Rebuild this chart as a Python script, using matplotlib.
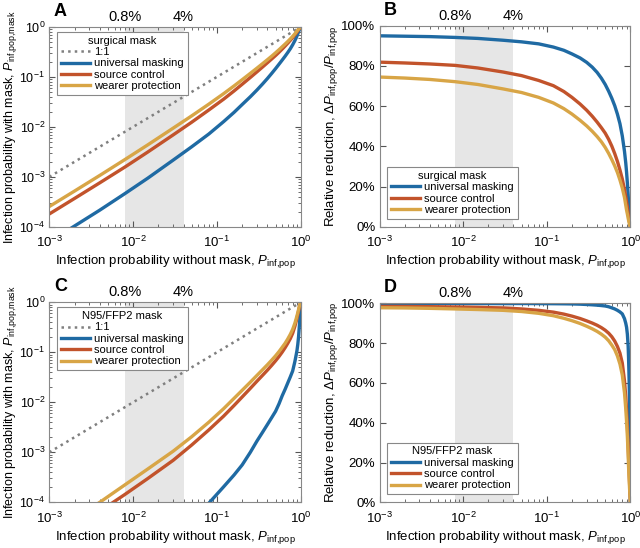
import numpy as np
import matplotlib
matplotlib.use('Agg')
import matplotlib.pyplot as plt
import matplotlib.transforms as mtransforms
from matplotlib.ticker import PercentFormatter

plt.rcParams['font.family'] = ['Liberation Sans', 'DejaVu Sans']
plt.rcParams['mathtext.fontset'] = 'custom'
plt.rcParams['mathtext.rm'] = 'Liberation Sans'
plt.rcParams['mathtext.it'] = 'Liberation Sans:italic'

# infection probability without mask (x axis)
p_pop = [0.001, 0.002, 0.004, 0.008, 0.015, 0.03, 0.05, 0.08, 0.12, 0.16, 0.2,
         0.25, 0.3, 0.35, 0.4, 0.45, 0.5, 0.55, 0.6, 0.65, 0.7, 0.75, 0.8,
         0.85, 0.88, 0.9, 0.92, 0.94, 0.95, 0.96, 0.97, 0.98, 0.99, 0.995, 1.0]

surg_universal = [95.0, 94.8, 94.6, 94.2, 93.7, 92.8, 92.0, 91.0, 89.4, 87.8, 86.0,
                  84.0, 81.8, 79.4, 76.8, 73.9, 70.8, 67.4, 63.9, 60.2, 56.0, 51.3, 45.2,
                  37.5, 31.8, 27.2, 21.8, 15.8, 12.5, 9.5, 6.7, 4.2, 2.0, 1.0, 0.0]
surg_source = [81.9, 81.5, 81.0, 80.3, 79.0, 77.0, 75.2, 72.8, 70.2, 67.3, 64.4,
               61.1, 58.0, 55.0, 52.1, 49.3, 46.6, 43.5, 40.1, 36.4, 32.5, 28.3, 23.8,
               18.5, 15.0, 12.3, 10.0, 6.8, 5.5, 4.2, 3.0, 1.9, 0.9, 0.4, 0.0]
surg_wearer = [74.5, 74.0, 73.3, 72.2, 70.8, 68.6, 66.8, 64.4, 61.6, 58.8, 56.1,
               53.0, 50.2, 47.5, 44.9, 42.3, 39.5, 36.5, 33.4, 30.3, 27.0, 23.3, 19.3,
               14.6, 10.8, 8.3, 6.4, 4.3, 3.4, 2.5, 1.7, 1.0, 0.5, 0.25, 0.0]

n95_universal = [99.97, 99.97, 99.96, 99.96, 99.95, 99.94, 99.92, 99.88, 99.83, 99.78, 99.72,
                 99.60, 99.44, 99.28, 99.10, 98.90, 98.68, 98.3, 97.75, 97.2, 96.5, 95.7, 94.7,
                 92.3, 90.0, 88.0, 84.5, 78.5, 73.0, 66.0, 57.0, 45.0, 28.0, 16.0, 0.0]
n95_source = [98.5, 98.45, 98.35, 98.2, 98.0, 97.7, 97.2, 96.5, 95.6, 94.6, 93.6,
              92.4, 91.2, 90.1, 89.0, 87.8, 86.5, 85.0, 83.2, 81.0, 78.3, 75.0, 70.0,
              61.0, 53.0, 46.0, 38.5, 29.0, 23.0, 18.0, 13.0, 8.5, 4.0, 2.0, 0.0]
n95_wearer = [97.8, 97.7, 97.5, 97.2, 96.9, 96.5, 95.9, 95.0, 93.8, 92.5, 91.3,
              89.9, 88.5, 87.2, 85.9, 84.5, 83.0, 81.2, 79.0, 76.7, 73.5, 69.5, 64.0,
              55.0, 47.0, 40.5, 33.0, 24.0, 18.5, 14.0, 10.0, 6.0, 2.8, 1.3, 0.0]

labels = ['universal masking', 'source control', 'wearer protection']
colors = ['#1f6aa3', '#c2532b', '#d8a546']
band = (0.008, 0.04)
band_labels = ['0.8%', '4%']

fig = plt.figure(figsize=(6.4, 5.48), dpi=100)
axA = fig.add_axes([0.077, 0.586, 0.393, 0.365])
axB = fig.add_axes([0.593, 0.586, 0.392, 0.367])
axC = fig.add_axes([0.077, 0.0834, 0.393, 0.365])
axD = fig.add_axes([0.593, 0.0834, 0.392, 0.363])

x = np.array(p_pop)
sub = r'_{\mathrm{inf{,}pop}}'
xlab = r'Infection probability without mask, $P' + sub + '$'


def style(ax, letter):
    ax.set_xscale('log')
    ax.set_xlim(1e-3, 1)
    ax.axvspan(band[0], band[1], color='#e6e6e6', lw=0, zorder=0)
    tr = mtransforms.blended_transform_factory(ax.transData, ax.transAxes)
    for b, t in zip(band, band_labels):
        ax.text(b, 1.015, t, transform=tr, ha='center', va='bottom', fontsize=10.5)
    ax.text(0.018, 1.035, letter, transform=ax.transAxes, ha='left', va='bottom',
            fontsize=13, fontweight='bold')
    ax.tick_params(which='both', direction='in', top=True, right=True,
                   labelsize=9.5, color='#555555')
    ax.tick_params(axis='x', pad=6)
    ax.tick_params(axis='y', pad=3)
    ax.tick_params(which='major', length=4)
    ax.tick_params(which='minor', length=2)
    for s in ax.spines.values():
        s.set_color('#888888')
        s.set_linewidth(0.8)
    ax.set_xlabel(xlab, fontsize=9.5, labelpad=2)


def add_legend(ax, title, loc, anchor):
    leg = ax.legend(title=title, loc=loc, bbox_to_anchor=anchor,
                    fontsize=8, title_fontsize=8, fancybox=False, framealpha=1,
                    edgecolor='#888888', handlelength=2.6, borderpad=0.35,
                    labelspacing=0.12, handletextpad=0.4, borderaxespad=0)
    leg.get_frame().set_linewidth(0.8)


def prob_panel(ax, series, title, letter):
    style(ax, letter)
    ax.set_yscale('log')
    ax.set_ylim(1e-4, 1)
    ax.tick_params(axis='y', labelsize=9)
    ax.plot(x, x, ls=':', color='#7f7f7f', lw=1.8, label='1:1')
    for r, lab, c in zip(series, labels, colors):
        pm = x * (1 - np.array(r) / 100)
        ax.plot(x, pm, color=c, lw=2.4, label=lab)
    ax.set_ylabel(r'Infection probability with mask, $P_{\mathrm{inf{,}pop{,}mask}}$',
                  fontsize=9)
    ax.yaxis.set_label_coords(-0.12, 0.5)
    add_legend(ax, title, 'upper left', (0.03, 0.975))


def red_panel(ax, series, title, letter):
    style(ax, letter)
    ax.set_ylim(0, 100)
    ax.set_yticks([0, 20, 40, 60, 80, 100])
    ax.yaxis.set_major_formatter(PercentFormatter(decimals=0))
    for r, lab, c in zip(series, labels, colors):
        ax.plot(x, r, color=c, lw=2.4, label=lab)
    ax.set_ylabel(r'Relative reduction, $\Delta P' + sub + '/P' + sub + '$',
                  fontsize=9.5, labelpad=1)
    add_legend(ax, title, 'lower left', (0.03, 0.04))


surg = [surg_universal, surg_source, surg_wearer]
n95 = [n95_universal, n95_source, n95_wearer]
prob_panel(axA, surg, 'surgical mask', 'A')
red_panel(axB, surg, 'surgical mask', 'B')
prob_panel(axC, n95, 'N95/FFP2 mask', 'C')
red_panel(axD, n95, 'N95/FFP2 mask', 'D')

fig.savefig('out.png', dpi=100)
